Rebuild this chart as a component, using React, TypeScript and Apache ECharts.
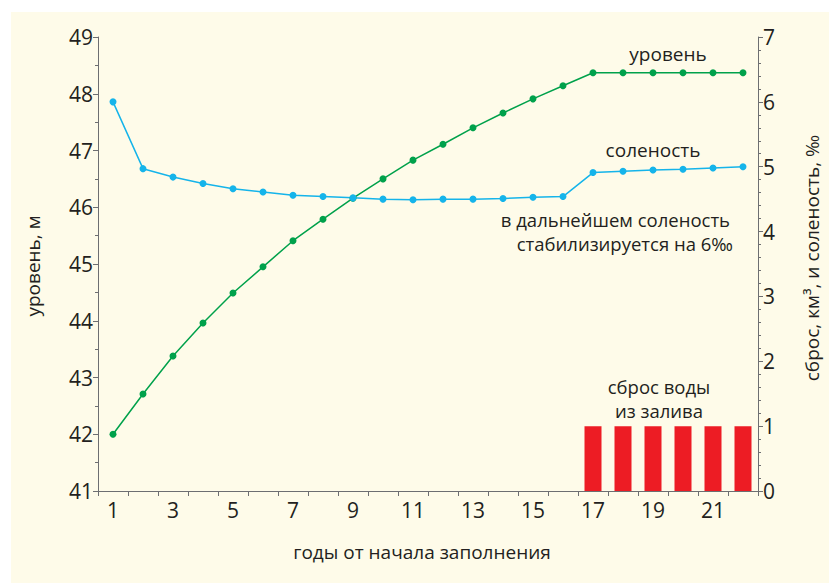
import React, { useEffect, useRef } from "react";
import * as echarts from "echarts";

const years = ["1","2","3","4","5","6","7","8","9","10","11","12","13","14","15","16","17","18","19","20","21","22"];
const level = [42.0, 42.71, 43.38, 43.96, 44.49, 44.95, 45.41, 45.79, 46.16, 46.5, 46.83, 47.11, 47.4, 47.66, 47.91, 48.14, 48.37, 48.37, 48.37, 48.37, 48.37, 48.37];
const salinity = [6.0, 4.97, 4.84, 4.74, 4.66, 4.61, 4.56, 4.54, 4.52, 4.5, 4.49, 4.5, 4.5, 4.51, 4.53, 4.54, 4.91, 4.93, 4.95, 4.96, 4.98, 5.0];
const discharge = [null, null, null, null, null, null, null, null, null, null, null, null, null, null, null, null, 1, 1, 1, 1, 1, 1];

const leftAxisName = "уровень, м";
const rightAxisName = "сброс, км³, и соленость, ‰";
const xAxisName = "годы от начала заполнения";
const levelLabel = "уровень";
const salinityLabel = "соленость";
const noteLines = ["в дальнейшем соленость", "стабилизируется на 6‰"];
const dischargeLines = ["сброс воды", "из залива"];

const FONT = "'Open Sans', 'Noto Sans', sans-serif";
const TEXT = "#231f20";
const AXIS = "#6d6e71";
const GREEN = "#00a14b";
const BLUE = "#15b4ea";
const RED = "#ed1c24";

export default function App() {
  const ref = useRef<HTMLDivElement>(null);
  useEffect(() => {
    const chart = echarts.init(ref.current!, null, { renderer: "svg" });
    const axisCommon = {
      axisLine: { show: true, lineStyle: { color: AXIS, width: 1 } },
      axisTick: { show: true, length: 5, lineStyle: { color: AXIS } },
      minorTick: { show: true, length: 3, lineStyle: { color: AXIS } },
      splitLine: { show: false },
      minorSplitLine: { show: false },
      axisLabel: { color: TEXT, fontSize: 21, fontFamily: FONT, margin: 5 },
    };
    const txt = (x: number, y: number, text: string, align: string = "center", rotation = 0, fontSize = 19) => ({
      type: "text",
      x,
      y,
      rotation,
      style: { text, fill: TEXT, fontSize, fontFamily: FONT, align, verticalAlign: "middle" },
    });
    chart.setOption({
      animation: false,
      textStyle: { fontFamily: FONT },
      grid: { left: 98, right: 71, top: 37, bottom: 92, containLabel: false },
      xAxis: {
        type: "category",
        data: years,
        boundaryGap: true,
        axisLine: { show: true, lineStyle: { color: AXIS, width: 1 } },
        axisTick: { show: true, length: 5, interval: 0, lineStyle: { color: AXIS } },
        axisLabel: { color: TEXT, fontSize: 21, fontFamily: FONT, interval: 1, margin: 8 },
        splitLine: { show: false },
      },
      yAxis: [
        {
          type: "value",
          min: 41,
          max: 49,
          interval: 1,
          position: "left",
          ...axisCommon,
          minorTick: { ...axisCommon.minorTick, splitNumber: 2 },
        },
        {
          type: "value",
          min: 0,
          max: 7,
          interval: 1,
          position: "right",
          ...axisCommon,
          minorTick: { ...axisCommon.minorTick, splitNumber: 5 },
        },
      ],
      series: [
        {
          name: "сброс",
          type: "bar",
          yAxisIndex: 1,
          data: discharge,
          barWidth: 17,
          itemStyle: { color: RED },
        },
        {
          name: "уровень",
          type: "line",
          yAxisIndex: 0,
          data: level,
          symbol: "circle",
          symbolSize: 7,
          lineStyle: { color: GREEN, width: 1.5 },
          itemStyle: { color: GREEN },
        },
        {
          name: "соленость",
          type: "line",
          yAxisIndex: 1,
          data: salinity,
          symbol: "circle",
          symbolSize: 7,
          lineStyle: { color: BLUE, width: 1.5 },
          itemStyle: { color: BLUE },
        },
      ],
      graphic: [
        { type: "rect", z: -10, shape: { x: 11, y: 12, width: 818, height: 571 }, style: { fill: "#fefbe9" }, silent: true },
        txt(33, 266, leftAxisName, "center", Math.PI / 2),
        txt(812, 258, rightAxisName, "center", Math.PI / 2),
        txt(422, 552, xAxisName),
        txt(668, 54, levelLabel),
        txt(653, 150, salinityLabel),
        txt(730, 219, noteLines[0], "right", 0, 18.5),
        txt(733, 243, noteLines[1], "right", 0, 18.5),
        txt(659, 386, dischargeLines[0], "center", 0, 18.5),
        txt(659, 410, dischargeLines[1], "center", 0, 18.5),
      ],
    });
    return () => chart.dispose();
  }, []);
  return (
    <div
      ref={ref}
      style={{ position: "fixed", left: 0, top: 0, width: 829, height: 583, background: "#ffffff" }}
    />
  );
}
